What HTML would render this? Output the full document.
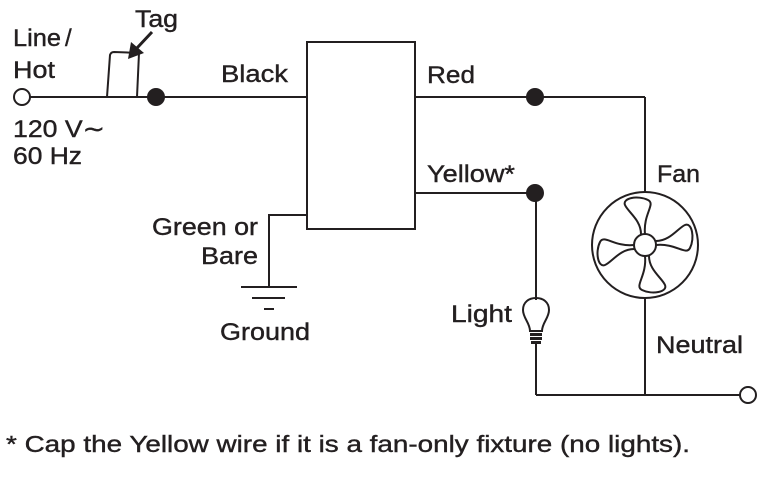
<!DOCTYPE html>
<html><head><style>
html,body{margin:0;padding:0;background:#fff}
svg text{font-family:"Liberation Sans",Arial,sans-serif;fill:#231f20;stroke:#231f20;stroke-width:0.4}
</style></head><body>
<svg width="767" height="474" viewBox="0 0 767 474" xmlns="http://www.w3.org/2000/svg">
<g stroke="#231f20" stroke-width="2" fill="none">
<rect x="307" y="42" width="108" height="187"/>
<line x1="30" y1="97" x2="307" y2="97"/>
<line x1="415" y1="97" x2="645" y2="97"/>
<line x1="415" y1="193" x2="536" y2="193"/>
<line x1="645" y1="97" x2="645" y2="192"/>
<line x1="645" y1="298" x2="645" y2="395"/>
<line x1="536" y1="193" x2="536" y2="300"/>
<line x1="536" y1="344" x2="536" y2="395"/>
<line x1="536" y1="395" x2="740" y2="395"/>
<polyline points="307,215 269,215 269,287"/>
<line x1="241" y1="287" x2="297" y2="287"/>
<line x1="252" y1="298" x2="285" y2="298"/>
<line x1="264" y1="309" x2="274" y2="309"/>
<circle cx="22" cy="97" r="8" fill="#fff"/>
<circle cx="748" cy="395" r="8" fill="#fff"/>
<path d="M107,97 L110,55 Q111,52 114,52 L139,53 L137,97"/>
<line x1="152" y1="32" x2="137" y2="48" stroke-width="3"/>
<circle cx="645" cy="245" r="53"/>
<circle cx="645" cy="245" r="11"/>
<path d="M641,234 C641,220 628,212 625,205 C622,198 638,195 648,200 C656,204 643,214 645,234"/>
<path d="M656,241 C670,241 678,228 685,225 C692,222 695,238 690,248 C686,256 676,243 656,245"/>
<path d="M649,256 C649,270 662,278 665,285 C668,292 652,295 642,290 C634,286 647,276 645,256"/>
<path d="M634,249 C620,249 612,262 605,265 C598,268 595,252 600,242 C604,234 614,247 634,245"/>
<path d="M530,331 C530,323 523,318 523,310 C523,302 529,298 536,298 C543,298 549,302 549,310 C549,318 542,323 542,331 Z"/>
<line x1="530" y1="331" x2="542" y2="331"/>
</g>
<rect x="530" y="333" width="12" height="3" fill="#231f20"/>
<rect x="530" y="337" width="12" height="3" fill="#231f20"/>
<rect x="531" y="341" width="10" height="3" fill="#231f20"/>
<polygon points="128,59 131,42 144,53" fill="#231f20"/>
<circle cx="156" cy="97" r="9" fill="#231f20"/>
<circle cx="535" cy="97" r="9" fill="#231f20"/>
<circle cx="535" cy="193" r="9" fill="#231f20"/>
<g font-size="24">
<text x="135" y="27" textLength="43" lengthAdjust="spacingAndGlyphs">Tag</text>
<text x="13" y="46" textLength="48" lengthAdjust="spacingAndGlyphs">Line</text><text x="65" y="46">/</text>
<text x="13" y="78" textLength="42" lengthAdjust="spacingAndGlyphs">Hot</text>
<text x="13" y="137" textLength="92" lengthAdjust="spacingAndGlyphs">120 V∼</text>
<text x="13" y="164" textLength="69" lengthAdjust="spacingAndGlyphs">60 Hz</text>
<text x="221" y="82" textLength="67" lengthAdjust="spacingAndGlyphs">Black</text>
<text x="427" y="83" textLength="48" lengthAdjust="spacingAndGlyphs">Red</text>
<text x="427" y="182" textLength="88" lengthAdjust="spacingAndGlyphs">Yellow*</text>
<text x="657" y="182" textLength="43" lengthAdjust="spacingAndGlyphs">Fan</text>
<text x="152" y="235" textLength="106" lengthAdjust="spacingAndGlyphs">Green or</text>
<text x="201" y="264" textLength="57" lengthAdjust="spacingAndGlyphs">Bare</text>
<text x="220" y="340" textLength="90" lengthAdjust="spacingAndGlyphs">Ground</text>
<text x="451" y="322" textLength="61" lengthAdjust="spacingAndGlyphs">Light</text>
<text x="656" y="353" textLength="87" lengthAdjust="spacingAndGlyphs">Neutral</text>
<text x="6" y="452" font-size="23" textLength="684" lengthAdjust="spacingAndGlyphs">* Cap the Yellow wire if it is a fan-only fixture (no lights).</text>
</g>
</svg>
</body></html>
